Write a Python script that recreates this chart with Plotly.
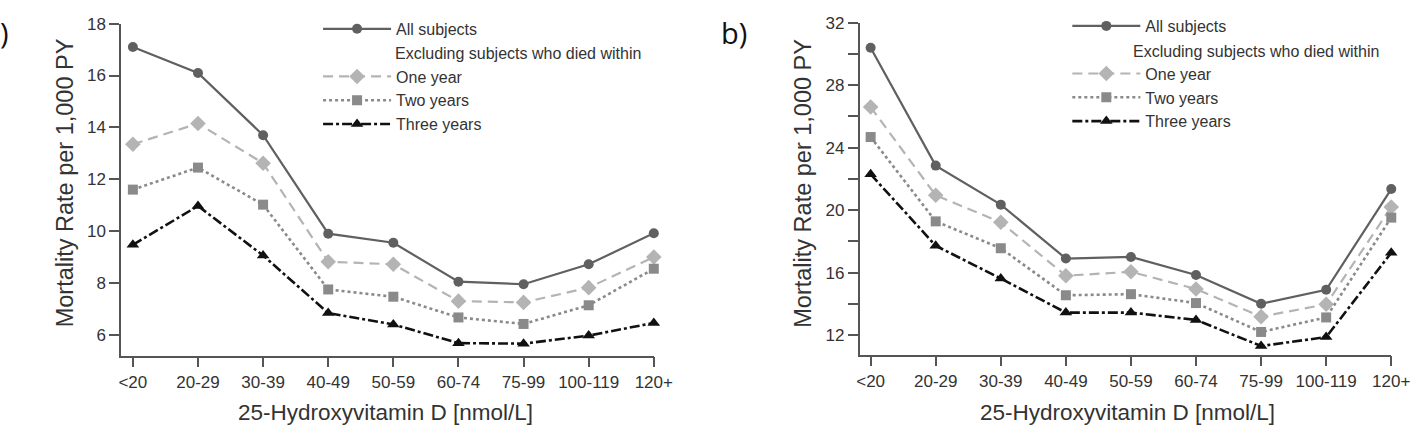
import plotly.graph_objects as go

W, H = 1426, 429

categories = ["<20", "20-29", "30-39", "40-49", "50-59", "60-74", "75-99", "100-119", "120+"]

# Panel a)
a_all = [17.1, 16.1, 13.7, 9.9, 9.55, 8.05, 7.95, 8.72, 9.92]
a_one = [13.35, 14.15, 12.62, 8.82, 8.72, 7.3, 7.25, 7.82, 9.0]
a_two = [11.6, 12.45, 11.02, 7.75, 7.47, 6.67, 6.42, 7.14, 8.55]
a_three = [9.47, 10.97, 9.06, 6.84, 6.4, 5.68, 5.66, 5.97, 6.46]

# Panel b)
b_all = [30.4, 22.85, 20.35, 16.9, 17.0, 15.85, 14.0, 14.9, 21.35]
b_one = [26.6, 20.95, 19.22, 15.8, 16.05, 14.95, 13.18, 13.97, 20.2]
b_two = [24.68, 19.28, 17.56, 14.55, 14.62, 14.05, 12.2, 13.13, 19.52]
b_three = [22.3, 17.72, 15.62, 13.44, 13.44, 12.97, 11.3, 11.87, 17.27]

series_names = ["All subjects", " ", "One year", "Two years", "Three years"]
legend_subheading = "Excluding subjects who died within"

a_yticks = [6, 8, 10, 12, 14, 16, 18]
a_yticktext = ["6", "8", "10", "12", "14", "16", "18"]
b_yticks = [12, 14, 16, 18, 20, 22, 24, 26, 28, 30, 32]
b_yticktext = ["12", "", "16", "", "20", "", "24", "", "28", "", "32"]

x_title = "25-Hydroxyvitamin D [nmol/L]"
y_title = "Mortality Rate per 1,000 PY"
panel_labels = ["a)", "b)"]

FONT = "Liberation Sans, Arial, sans-serif"
TXT = "#333333"
AX = "#555555"

styles = [
    dict(line=dict(color="#606060", width=2.2), marker=dict(symbol="circle", size=10, color="#606060")),
    None,
    dict(line=dict(color="#b4b4b4", width=2.2, dash="10px,6px"), marker=dict(symbol="diamond", size=12, color="#b4b4b4")),
    dict(line=dict(color="#8a8a8a", width=2.6, dash="3px,3px"), marker=dict(symbol="square", size=10, color="#8a8a8a")),
    dict(line=dict(color="#111111", width=2.6, dash="10px,3px,3px,3px"), marker=dict(symbol="triangle-up", size=11, color="#111111")),
]

fig = go.Figure()

panels = [
    ("x", "y", "legend", [a_all, None, a_one, a_two, a_three]),
    ("x2", "y2", "legend2", [b_all, None, b_one, b_two, b_three]),
]
for xa, ya, lg, data in panels:
    for name, st, vals in zip(series_names, styles, data):
        if vals is None:
            fig.add_trace(go.Scatter(
                x=[None], y=[None], mode="lines", name=name,
                line=dict(color="rgba(0,0,0,0)", width=0),
                xaxis=xa, yaxis=ya, legend=lg, hoverinfo="skip"))
        else:
            fig.add_trace(go.Scatter(
                x=categories, y=vals, mode="lines+markers", name=name,
                line=st["line"], marker=st["marker"],
                xaxis=xa, yaxis=ya, legend=lg, cliponaxis=False))

axis_common = dict(
    showline=True, linecolor=AX, linewidth=1.5, showgrid=False, zeroline=False,
    ticks="outside", ticklen=10, tickwidth=1.5, tickcolor=AX,
    tickfont=dict(family=FONT, size=17, color=TXT),
)

fig.update_layout(
    width=W, height=H,
    margin=dict(l=0, r=0, t=0, b=0),
    paper_bgcolor="white", plot_bgcolor="white",
    font=dict(family=FONT, color=TXT),
    xaxis=dict(domain=[120 / W, 661 / W], type="category", categoryorder="array",
               categoryarray=categories, range=[-0.18, 8], anchor="y", **axis_common),
    yaxis=dict(domain=[1 - 354 / H, 1 - 15 / H], range=[5.2, 18], tickvals=a_yticks,
               ticktext=a_yticktext, anchor="x", **axis_common),
    xaxis2=dict(domain=[870 / W, 1410 / W], type="category", categoryorder="array",
                categoryarray=categories, range=[-0.17, 8], anchor="y2", **axis_common),
    yaxis2=dict(domain=[1 - 353 / H, 1 - 14 / H], range=[10.75, 32], tickvals=b_yticks,
                ticktext=b_yticktext, anchor="x2", **axis_common),
    legend=dict(x=320 / W, xanchor="left", y=1 - 3 / H, yanchor="top",
                font=dict(family=FONT, size=16, color=TXT), itemwidth=68,
                bgcolor="rgba(0,0,0,0)", tracegroupgap=0),
    legend2=dict(x=1081 / W, xanchor="left", y=1 - 0 / H, yanchor="top",
                 font=dict(family=FONT, size=16, color=TXT), itemwidth=68,
                 bgcolor="rgba(0,0,0,0)", tracegroupgap=0),
    showlegend=True,
)

ann = []
for cx, cy in [(388, 412), (1142, 412)]:
    ann.append(dict(text=x_title, x=cx / W, y=1 - cy / H, xref="paper", yref="paper",
                    xanchor="center", yanchor="middle", showarrow=False,
                    font=dict(family=FONT, size=22.5, color=TXT)))
for cx, cy in [(63, 178), (813, 178)]:
    ann.append(dict(text=y_title, x=cx / W, y=1 - cy / H, xref="paper", yref="paper",
                    xanchor="center", yanchor="middle", showarrow=False, textangle=-90,
                    font=dict(family=FONT, size=23.5, color=TXT)))
for lx, ly in [(396, 45), (1146, 43)]:
    ann.append(dict(text=legend_subheading, x=lx / W, y=1 - ly / H, xref="paper", yref="paper",
                    xanchor="left", yanchor="middle", showarrow=False,
                    font=dict(family=FONT, size=16, color=TXT)))
ann.append(dict(text=panel_labels[0], x=8 / W, y=1 - 24 / H, xref="paper", yref="paper",
                xanchor="right", yanchor="middle", showarrow=False,
                font=dict(family="Open Sans, sans-serif", size=29, color="#111111")))
ann.append(dict(text=panel_labels[1], x=727 / W, y=1 - 24 / H, xref="paper", yref="paper",
                xanchor="left", yanchor="middle", showarrow=False,
                font=dict(family="Open Sans, sans-serif", size=29, color="#111111")))
fig.update_layout(annotations=ann)

fig.write_html("out.html")
